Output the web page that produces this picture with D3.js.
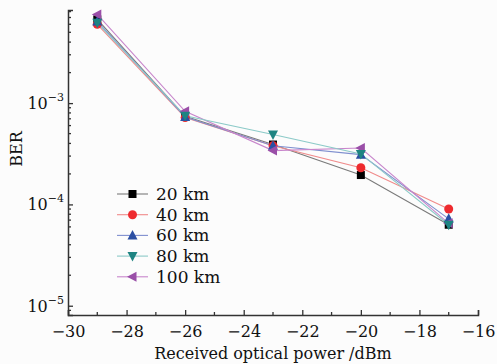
<!DOCTYPE html>
<html><head><meta charset="utf-8">
<script src="https://cdn.jsdelivr.net/npm/d3@7"></script>
<style>body{margin:0;background:#fcfcfc;} svg{display:block;}</style>
</head><body>
<svg id="c" width="497" height="364"></svg>
<script>
const power = [-29, -26, -23, -20, -17];
const seriesNames = ["20 km", "40 km", "60 km", "80 km", "100 km"];
const ber20  = [6.7e-3, 7.4e-4, 3.9e-4, 1.95e-4, 6.3e-5];
const ber40  = [6.0e-3, 7.2e-4, 3.8e-4, 2.3e-4, 9.0e-5];
const ber60  = [6.4e-3, 7.3e-4, 3.8e-4, 3.1e-4, 7.2e-5];
const ber80  = [6.2e-3, 7.5e-4, 4.9e-4, 3.15e-4, 6.3e-5];
const ber100 = [7.5e-3, 8.3e-4, 3.4e-4, 3.6e-4, 6.5e-5];
const xTicks = [-30, -28, -26, -24, -22, -20, -18, -16];
const yTicks = [1e-5, 1e-4, 1e-3];
const yExp = ["−5", "−4", "−3"];

const seriesVals = [ber20, ber40, ber60, ber80, ber100];
const markerColors = ["#000000", "#ee2a2e", "#2b4fa3", "#1e8482", "#9a4fa8"];
const lineColors = ["#7a7a7a", "#f08a8a", "#7f8fcf", "#8ccac8", "#c886cc"];
const shapes = ["square", "circle", "up", "down", "left"];
const drawOrder = [0, 1, 2, 4, 3];

const svg = d3.select("#c");
const font = "DejaVu Serif";
const x = d3.scaleLinear().domain([-30, -16]).range([68, 478]);
const y = d3.scaleLog().domain([8.1e-6, 8.3e-3]).range([315, 10]);

function markerPath(shape, s) {
  const h = s / 2;
  if (shape === "square") return `M${-h+0.5},${-h+0.5}h${s-1}v${s-1}h${-(s-1)}Z`;
  if (shape === "circle") return d3.symbol(d3.symbolCircle).size(Math.PI*h*h)();
  if (shape === "up") return `M0,${-h-1}L${h+0.5},${h-0.5}L${-h-0.5},${h-0.5}Z`;
  if (shape === "down") return `M0,${h+1}L${h+0.5},${-h+0.5}L${-h-0.5},${-h+0.5}Z`;
  if (shape === "left") return `M${-h-1},0L${h-0.5},${-h-0.5}L${h-0.5},${h+0.5}Z`;
}

// axes
const axisColor = "#333";
const xAxis = d3.axisBottom(x).tickValues(xTicks).tickSize(-5).tickPadding(11)
  .tickFormat(d => d3.format("d")(d).replace("-", "−"));
const gx = svg.append("g").attr("transform", "translate(0,315)").call(xAxis);
gx.select(".domain").attr("stroke", axisColor).attr("stroke-width", 1.5);
gx.selectAll(".tick line").attr("stroke", axisColor).attr("stroke-width", 1.3);
gx.selectAll("text").attr("font-family", font).attr("font-size", 16).attr("fill", "#111");
const xMinor = d3.range(-29, -16, 2);
svg.append("g").selectAll("line").data(xMinor).join("line")
  .attr("x1", d => x(d)).attr("x2", d => x(d)).attr("y1", 315).attr("y2", 312)
  .attr("stroke", axisColor).attr("stroke-width", 1.3);

const gy = svg.append("g").attr("transform", "translate(68,0)")
  .call(d3.axisLeft(y).tickValues(yTicks).tickSize(-5).tickFormat(""));
gy.select(".domain").attr("stroke", axisColor).attr("stroke-width", 1.5);
gy.selectAll(".tick line").attr("stroke", axisColor).attr("stroke-width", 1.3);
const yMinor = [];
for (let e = -6; e <= -3; e++) for (let m = 2; m <= 9; m++) {
  const v = m * Math.pow(10, e);
  if (v >= 8.1e-6 && v <= 8.3e-3) yMinor.push(v);
}
svg.append("g").selectAll("line").data(yMinor).join("line")
  .attr("x1", 68).attr("x2", 71).attr("y1", d => y(d)).attr("y2", d => y(d))
  .attr("stroke", axisColor).attr("stroke-width", 1.3);
const yl = svg.append("g").selectAll("text").data(yTicks).join("text")
  .attr("x", 64).attr("y", d => y(d) + 6).attr("text-anchor", "end")
  .attr("font-family", font).attr("fill", "#111");
yl.append("tspan").attr("font-size", 16).text("10");
yl.append("tspan").attr("font-size", 11).attr("dy", -8).text((d, i) => yExp[i]);

// axis titles
svg.append("text").attr("x", 273).attr("y", 359).attr("text-anchor", "middle")
  .attr("font-family", font).attr("font-size", 16).attr("fill", "#111")
  .text("Received optical power /dBm");
svg.append("text").attr("transform", "translate(22,149) rotate(-90)").attr("text-anchor", "middle")
  .attr("font-family", font).attr("font-size", 16).attr("fill", "#111").text("BER");

// series
const line = d3.line().x((d, i) => x(power[i])).y(d => y(d));
drawOrder.forEach(k => {
  svg.append("path").attr("d", line(seriesVals[k])).attr("fill", "none")
    .attr("stroke", lineColors[k]).attr("stroke-width", 1.1);
});
drawOrder.forEach(k => {
  svg.append("g").selectAll("path").data(seriesVals[k]).join("path")
    .attr("transform", (d, i) => `translate(${x(power[i])},${y(d)})`)
    .attr("d", markerPath(shapes[k], 9)).attr("fill", markerColors[k]);
});

// legend
const lg = svg.append("g");
seriesNames.forEach((name, k) => {
  const cy = 194 + k * 20.7;
  lg.append("line").attr("x1", 117).attr("x2", 148).attr("y1", cy).attr("y2", cy)
    .attr("stroke", lineColors[k]).attr("stroke-width", 1.1);
  lg.append("path").attr("transform", `translate(132.5,${cy})`)
    .attr("d", markerPath(shapes[k], 9)).attr("fill", markerColors[k]);
  lg.append("text").attr("x", 156).attr("y", cy + 6).attr("font-family", font)
    .attr("font-size", 17).attr("fill", "#111").text(name);
});
</script>
</body></html>
